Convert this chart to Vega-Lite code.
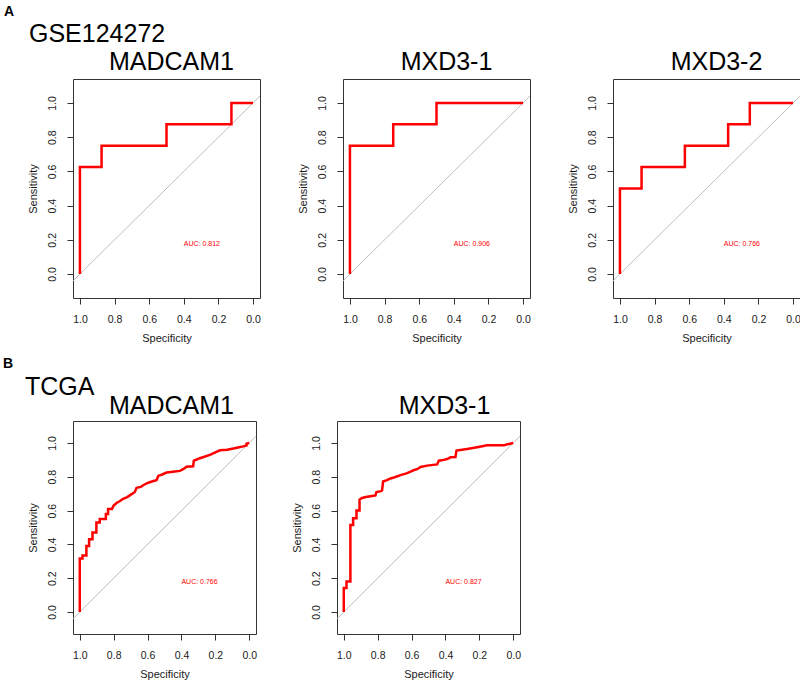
{
 "$schema": "https://vega.github.io/schema/vega-lite/v6.json",
 "background": "white",
 "padding": {"left": 3, "top": 4, "right": 2, "bottom": 2},
 "datasets": {
  "diag": [{"spec": 1.04, "sens": -0.04}, {"spec": -0.04, "sens": 1.04}],
  "roc": [
   {"panel":"A1","i":0,"spec":1,"sens":0},{"panel":"A1","i":1,"spec":1,"sens":0.625},{"panel":"A1","i":2,"spec":0.875,"sens":0.625},{"panel":"A1","i":3,"spec":0.875,"sens":0.75},{"panel":"A1","i":4,"spec":0.5,"sens":0.75},{"panel":"A1","i":5,"spec":0.5,"sens":0.875},{"panel":"A1","i":6,"spec":0.125,"sens":0.875},{"panel":"A1","i":7,"spec":0.125,"sens":1},{"panel":"A1","i":8,"spec":0,"sens":1},
   {"panel":"A2","i":0,"spec":1,"sens":0},{"panel":"A2","i":1,"spec":1,"sens":0.75},{"panel":"A2","i":2,"spec":0.75,"sens":0.75},{"panel":"A2","i":3,"spec":0.75,"sens":0.875},{"panel":"A2","i":4,"spec":0.5,"sens":0.875},{"panel":"A2","i":5,"spec":0.5,"sens":1},{"panel":"A2","i":6,"spec":0,"sens":1},
   {"panel":"A3","i":0,"spec":1,"sens":0},{"panel":"A3","i":1,"spec":1,"sens":0.5},{"panel":"A3","i":2,"spec":0.875,"sens":0.5},{"panel":"A3","i":3,"spec":0.875,"sens":0.625},{"panel":"A3","i":4,"spec":0.625,"sens":0.625},{"panel":"A3","i":5,"spec":0.625,"sens":0.75},{"panel":"A3","i":6,"spec":0.375,"sens":0.75},{"panel":"A3","i":7,"spec":0.375,"sens":0.875},{"panel":"A3","i":8,"spec":0.25,"sens":0.875},{"panel":"A3","i":9,"spec":0.25,"sens":1},{"panel":"A3","i":10,"spec":0,"sens":1},
   {"panel":"B1","i":0,"spec":1,"sens":0},{"panel":"B1","i":1,"spec":1,"sens":0.316},{"panel":"B1","i":2,"spec":0.984,"sens":0.316},{"panel":"B1","i":3,"spec":0.984,"sens":0.335},{"panel":"B1","i":4,"spec":0.961,"sens":0.335},{"panel":"B1","i":5,"spec":0.961,"sens":0.39},{"panel":"B1","i":6,"spec":0.945,"sens":0.39},{"panel":"B1","i":7,"spec":0.945,"sens":0.43},{"panel":"B1","i":8,"spec":0.925,"sens":0.43},{"panel":"B1","i":9,"spec":0.925,"sens":0.47},{"panel":"B1","i":10,"spec":0.902,"sens":0.47},{"panel":"B1","i":11,"spec":0.902,"sens":0.53},{"panel":"B1","i":12,"spec":0.882,"sens":0.53},{"panel":"B1","i":13,"spec":0.882,"sens":0.55},{"panel":"B1","i":14,"spec":0.846,"sens":0.55},{"panel":"B1","i":15,"spec":0.846,"sens":0.58},{"panel":"B1","i":16,"spec":0.833,"sens":0.58},{"panel":"B1","i":17,"spec":0.833,"sens":0.61},{"panel":"B1","i":18,"spec":0.81,"sens":0.61},{"panel":"B1","i":19,"spec":0.8,"sens":0.63},{"panel":"B1","i":20,"spec":0.783,"sens":0.645},{"panel":"B1","i":21,"spec":0.765,"sens":0.655},{"panel":"B1","i":22,"spec":0.744,"sens":0.67},{"panel":"B1","i":23,"spec":0.72,"sens":0.68},{"panel":"B1","i":24,"spec":0.705,"sens":0.69},{"panel":"B1","i":25,"spec":0.675,"sens":0.71},{"panel":"B1","i":26,"spec":0.665,"sens":0.735},{"panel":"B1","i":27,"spec":0.64,"sens":0.74},{"panel":"B1","i":28,"spec":0.626,"sens":0.75},{"panel":"B1","i":29,"spec":0.596,"sens":0.765},{"panel":"B1","i":30,"spec":0.565,"sens":0.775},{"panel":"B1","i":31,"spec":0.547,"sens":0.78},{"panel":"B1","i":32,"spec":0.537,"sens":0.805},{"panel":"B1","i":33,"spec":0.51,"sens":0.815},{"panel":"B1","i":34,"spec":0.488,"sens":0.825},{"panel":"B1","i":35,"spec":0.45,"sens":0.83},{"panel":"B1","i":36,"spec":0.409,"sens":0.835},{"panel":"B1","i":37,"spec":0.39,"sens":0.845},{"panel":"B1","i":38,"spec":0.37,"sens":0.86},{"panel":"B1","i":39,"spec":0.331,"sens":0.862},{"panel":"B1","i":40,"spec":0.327,"sens":0.895},{"panel":"B1","i":41,"spec":0.291,"sens":0.91},{"panel":"B1","i":42,"spec":0.26,"sens":0.92},{"panel":"B1","i":43,"spec":0.232,"sens":0.93},{"panel":"B1","i":44,"spec":0.2,"sens":0.945},{"panel":"B1","i":45,"spec":0.173,"sens":0.957},{"panel":"B1","i":46,"spec":0.13,"sens":0.96},{"panel":"B1","i":47,"spec":0.094,"sens":0.967},{"panel":"B1","i":48,"spec":0.06,"sens":0.975},{"panel":"B1","i":49,"spec":0.035,"sens":0.98},{"panel":"B1","i":50,"spec":0.016,"sens":0.985},{"panel":"B1","i":51,"spec":0.016,"sens":0.996},{"panel":"B1","i":52,"spec":0,"sens":1},
   {"panel":"B2","i":0,"spec":1,"sens":0},{"panel":"B2","i":1,"spec":1,"sens":0.142},{"panel":"B2","i":2,"spec":0.984,"sens":0.142},{"panel":"B2","i":3,"spec":0.984,"sens":0.18},{"panel":"B2","i":4,"spec":0.961,"sens":0.18},{"panel":"B2","i":5,"spec":0.961,"sens":0.515},{"panel":"B2","i":6,"spec":0.945,"sens":0.515},{"panel":"B2","i":7,"spec":0.945,"sens":0.555},{"panel":"B2","i":8,"spec":0.925,"sens":0.555},{"panel":"B2","i":9,"spec":0.925,"sens":0.6},{"panel":"B2","i":10,"spec":0.907,"sens":0.6},{"panel":"B2","i":11,"spec":0.907,"sens":0.665},{"panel":"B2","i":12,"spec":0.892,"sens":0.675},{"panel":"B2","i":13,"spec":0.87,"sens":0.68},{"panel":"B2","i":14,"spec":0.843,"sens":0.685},{"panel":"B2","i":15,"spec":0.813,"sens":0.69},{"panel":"B2","i":16,"spec":0.807,"sens":0.71},{"panel":"B2","i":17,"spec":0.78,"sens":0.715},{"panel":"B2","i":18,"spec":0.774,"sens":0.72},{"panel":"B2","i":19,"spec":0.768,"sens":0.772},{"panel":"B2","i":20,"spec":0.745,"sens":0.78},{"panel":"B2","i":21,"spec":0.724,"sens":0.79},{"panel":"B2","i":22,"spec":0.7,"sens":0.797},{"panel":"B2","i":23,"spec":0.665,"sens":0.81},{"panel":"B2","i":24,"spec":0.63,"sens":0.82},{"panel":"B2","i":25,"spec":0.606,"sens":0.83},{"panel":"B2","i":26,"spec":0.585,"sens":0.84},{"panel":"B2","i":27,"spec":0.567,"sens":0.845},{"panel":"B2","i":28,"spec":0.547,"sens":0.858},{"panel":"B2","i":29,"spec":0.508,"sens":0.866},{"panel":"B2","i":30,"spec":0.449,"sens":0.873},{"panel":"B2","i":31,"spec":0.439,"sens":0.895},{"panel":"B2","i":32,"spec":0.41,"sens":0.9},{"panel":"B2","i":33,"spec":0.39,"sens":0.905},{"panel":"B2","i":34,"spec":0.37,"sens":0.915},{"panel":"B2","i":35,"spec":0.341,"sens":0.917},{"panel":"B2","i":36,"spec":0.335,"sens":0.955},{"panel":"B2","i":37,"spec":0.272,"sens":0.965},{"panel":"B2","i":38,"spec":0.213,"sens":0.975},{"panel":"B2","i":39,"spec":0.154,"sens":0.986},{"panel":"B2","i":40,"spec":0.055,"sens":0.986},{"panel":"B2","i":41,"spec":0.035,"sens":0.992},{"panel":"B2","i":42,"spec":0,"sens":1}
  ],
  "auc": [
   {"panel":"A1","spec":0.4,"sens":0.2,"label":"AUC: 0.812"},
   {"panel":"A2","spec":0.4,"sens":0.2,"label":"AUC: 0.906"},
   {"panel":"A3","spec":0.4,"sens":0.2,"label":"AUC: 0.766"},
   {"panel":"B1","spec":0.4,"sens":0.2,"label":"AUC: 0.766"},
   {"panel":"B2","spec":0.4,"sens":0.2,"label":"AUC: 0.827"}
  ]
 },
 "spacing": 12,
 "vconcat": [
  {
   "title": {"text": "A", "fontSize": 14, "fontWeight": "bold", "anchor": "start", "frame": "group", "dx": -69, "offset": 3},
   "bounds": "flush",
   "vconcat": [
    {
     "title": {"text": "GSE124272", "fontSize": 25, "anchor": "start", "frame": "group", "dx": -44, "offset": 3},
     "bounds": "flush",
     "spacing": 83,
     "hconcat": [
      {
       "width": 187, "height": 219,
       "title": {"text": "MADCAM1", "fontSize": 25, "anchor": "middle", "frame": "group", "dx": 5, "offset": 4},
       "encoding": {
        "x": {"field": "spec", "type": "quantitative", "scale": {"domain": [-0.04, 1.04], "reverse": true, "nice": false, "zero": false}, "axis": {"values": [0, 0.2, 0.4, 0.6, 0.8, 1], "format": ".1f", "title": "Specificity"}},
        "y": {"field": "sens", "type": "quantitative", "scale": {"domain": [-0.14, 1.14], "nice": false, "zero": false}, "axis": {"values": [0, 0.2, 0.4, 0.6, 0.8, 1], "format": ".1f", "title": "Sensitivity", "labelAngle": 270, "labelAlign": "center", "labelBaseline": "bottom"}}
       },
       "layer": [
        {"data": {"name": "diag"}, "mark": {"type": "line", "color": "#bebebe", "strokeWidth": 1}, "encoding": {}},
        {"data": {"name": "roc"}, "transform": [{"filter": "datum.panel === 'A1'"}], "mark": {"type": "line", "color": "#ff0000", "strokeWidth": 2.5}, "encoding": {"order": {"field": "i", "type": "quantitative"}}},
        {"data": {"name": "auc"}, "transform": [{"filter": "datum.panel === 'A1'"}], "mark": {"type": "text", "color": "#ff0000", "fontSize": 7, "align": "left", "baseline": "top", "font": "Liberation Sans"}, "encoding": {"text": {"field": "label"}}}
       ]
      },
      {
       "width": 187, "height": 219,
       "title": {"text": "MXD3-1", "fontSize": 25, "anchor": "middle", "frame": "group", "dx": 10, "offset": 4},
       "encoding": {
        "x": {"field": "spec", "type": "quantitative", "scale": {"domain": [-0.04, 1.04], "reverse": true, "nice": false, "zero": false}, "axis": {"values": [0, 0.2, 0.4, 0.6, 0.8, 1], "format": ".1f", "title": "Specificity"}},
        "y": {"field": "sens", "type": "quantitative", "scale": {"domain": [-0.14, 1.14], "nice": false, "zero": false}, "axis": {"values": [0, 0.2, 0.4, 0.6, 0.8, 1], "format": ".1f", "title": "Sensitivity", "labelAngle": 270, "labelAlign": "center", "labelBaseline": "bottom"}}
       },
       "layer": [
        {"data": {"name": "diag"}, "mark": {"type": "line", "color": "#bebebe", "strokeWidth": 1}, "encoding": {}},
        {"data": {"name": "roc"}, "transform": [{"filter": "datum.panel === 'A2'"}], "mark": {"type": "line", "color": "#ff0000", "strokeWidth": 2.5}, "encoding": {"order": {"field": "i", "type": "quantitative"}}},
        {"data": {"name": "auc"}, "transform": [{"filter": "datum.panel === 'A2'"}], "mark": {"type": "text", "color": "#ff0000", "fontSize": 7, "align": "left", "baseline": "top", "font": "Liberation Sans"}, "encoding": {"text": {"field": "label"}}}
       ]
      },
      {
       "width": 187, "height": 219,
       "title": {"text": "MXD3-2", "fontSize": 25, "anchor": "middle", "frame": "group", "dx": 10, "offset": 4},
       "encoding": {
        "x": {"field": "spec", "type": "quantitative", "scale": {"domain": [-0.04, 1.04], "reverse": true, "nice": false, "zero": false}, "axis": {"values": [0, 0.2, 0.4, 0.6, 0.8, 1], "format": ".1f", "title": "Specificity"}},
        "y": {"field": "sens", "type": "quantitative", "scale": {"domain": [-0.14, 1.14], "nice": false, "zero": false}, "axis": {"values": [0, 0.2, 0.4, 0.6, 0.8, 1], "format": ".1f", "title": "Sensitivity", "labelAngle": 270, "labelAlign": "center", "labelBaseline": "bottom"}}
       },
       "layer": [
        {"data": {"name": "diag"}, "mark": {"type": "line", "color": "#bebebe", "strokeWidth": 1}, "encoding": {}},
        {"data": {"name": "roc"}, "transform": [{"filter": "datum.panel === 'A3'"}], "mark": {"type": "line", "color": "#ff0000", "strokeWidth": 2.5}, "encoding": {"order": {"field": "i", "type": "quantitative"}}},
        {"data": {"name": "auc"}, "transform": [{"filter": "datum.panel === 'A3'"}], "mark": {"type": "text", "color": "#ff0000", "fontSize": 7, "align": "left", "baseline": "top", "font": "Liberation Sans"}, "encoding": {"text": {"field": "label"}}}
       ]
      }
     ]
    }
   ]
  },
  {
   "title": {"text": "B", "fontSize": 14, "fontWeight": "bold", "anchor": "start", "frame": "group", "dx": -70, "offset": 4},
   "bounds": "flush",
   "vconcat": [
    {
     "title": {"text": "TCGA", "fontSize": 25, "anchor": "start", "frame": "group", "dx": -48, "offset": -6.5},
     "bounds": "flush",
     "spacing": 81,
     "hconcat": [
      {
       "width": 183, "height": 213,
       "title": {"text": "MADCAM1", "fontSize": 25, "anchor": "middle", "frame": "group", "dx": 7, "offset": 2.5},
       "encoding": {
        "x": {"field": "spec", "type": "quantitative", "scale": {"domain": [-0.04, 1.04], "reverse": true, "nice": false, "zero": false}, "axis": {"values": [0, 0.2, 0.4, 0.6, 0.8, 1], "format": ".1f", "title": "Specificity"}},
        "y": {"field": "sens", "type": "quantitative", "scale": {"domain": [-0.13, 1.13], "nice": false, "zero": false}, "axis": {"values": [0, 0.2, 0.4, 0.6, 0.8, 1], "format": ".1f", "title": "Sensitivity", "labelAngle": 270, "labelAlign": "center", "labelBaseline": "bottom"}}
       },
       "layer": [
        {"data": {"name": "diag"}, "mark": {"type": "line", "color": "#bebebe", "strokeWidth": 1}, "encoding": {}},
        {"data": {"name": "roc"}, "transform": [{"filter": "datum.panel === 'B1'"}], "mark": {"type": "line", "color": "#ff0000", "strokeWidth": 2.5}, "encoding": {"order": {"field": "i", "type": "quantitative"}}},
        {"data": {"name": "auc"}, "transform": [{"filter": "datum.panel === 'B1'"}], "mark": {"type": "text", "color": "#ff0000", "fontSize": 7, "align": "left", "baseline": "top", "font": "Liberation Sans"}, "encoding": {"text": {"field": "label"}}}
       ]
      },
      {
       "width": 183, "height": 213,
       "title": {"text": "MXD3-1", "fontSize": 25, "anchor": "middle", "frame": "group", "dx": 16, "offset": 2.5},
       "encoding": {
        "x": {"field": "spec", "type": "quantitative", "scale": {"domain": [-0.04, 1.04], "reverse": true, "nice": false, "zero": false}, "axis": {"values": [0, 0.2, 0.4, 0.6, 0.8, 1], "format": ".1f", "title": "Specificity"}},
        "y": {"field": "sens", "type": "quantitative", "scale": {"domain": [-0.13, 1.13], "nice": false, "zero": false}, "axis": {"values": [0, 0.2, 0.4, 0.6, 0.8, 1], "format": ".1f", "title": "Sensitivity", "labelAngle": 270, "labelAlign": "center", "labelBaseline": "bottom"}}
       },
       "layer": [
        {"data": {"name": "diag"}, "mark": {"type": "line", "color": "#bebebe", "strokeWidth": 1}, "encoding": {}},
        {"data": {"name": "roc"}, "transform": [{"filter": "datum.panel === 'B2'"}], "mark": {"type": "line", "color": "#ff0000", "strokeWidth": 2.5}, "encoding": {"order": {"field": "i", "type": "quantitative"}}},
        {"data": {"name": "auc"}, "transform": [{"filter": "datum.panel === 'B2'"}], "mark": {"type": "text", "color": "#ff0000", "fontSize": 7, "align": "left", "baseline": "top", "font": "Liberation Sans"}, "encoding": {"text": {"field": "label"}}}
       ]
      }
     ]
    }
   ]
  }
 ],
 "config": {
  "font": "Liberation Sans",
  "view": {"stroke": "#333333", "strokeWidth": 1},
  "axis": {"domain": false, "grid": false, "tickSize": 6, "tickColor": "#333333", "labelFont": "Liberation Sans", "labelFontSize": 10.5, "labelColor": "#1a1a1a", "labelFlush": false, "titleFont": "Liberation Sans", "titleFontSize": 11, "titleFontWeight": "normal", "titleColor": "#1a1a1a"},
  "axisX": {"labelPadding": 10, "titlePadding": 8},
  "axisY": {"labelPadding": 10, "titlePadding": 9},
  "title": {"font": "Liberation Sans", "fontWeight": "normal", "color": "#000000", "baseline": "alphabetic"}
 }
}
